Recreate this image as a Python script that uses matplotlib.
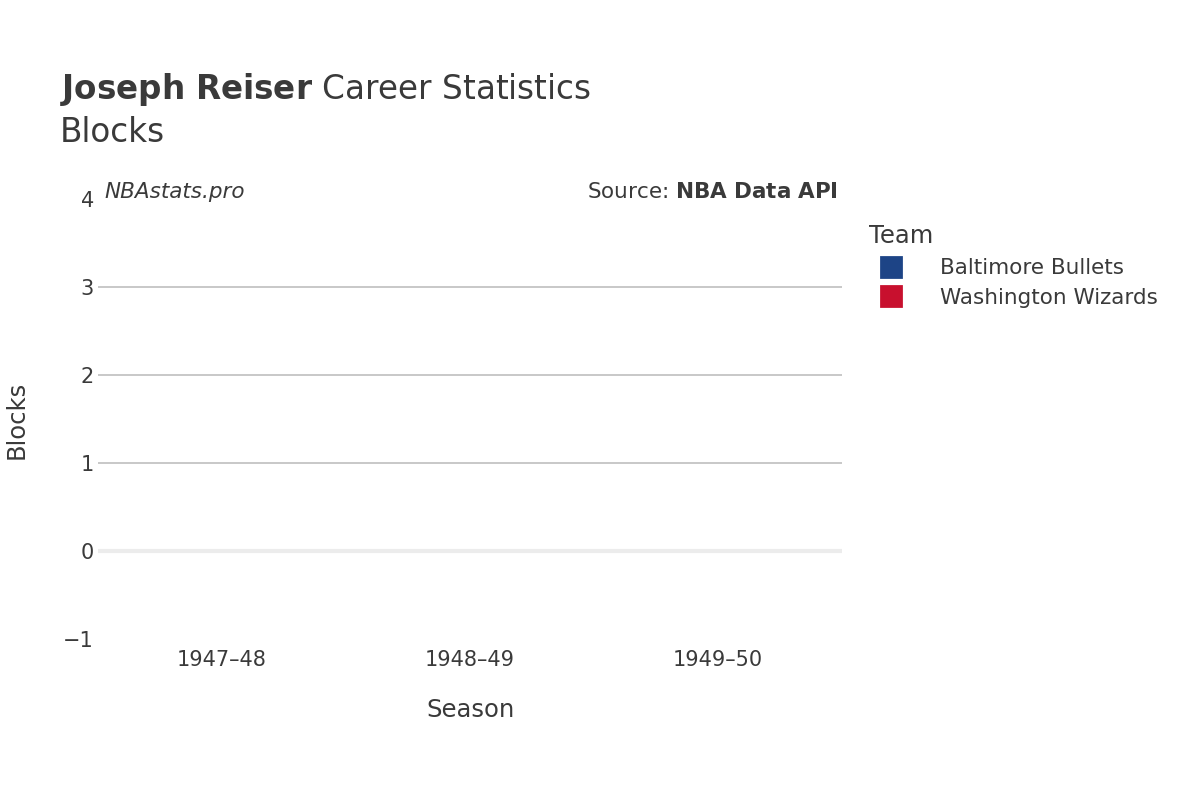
import matplotlib
matplotlib.use("Agg")
import matplotlib.pyplot as plt
from matplotlib.lines import Line2D

seasons = ["1947–48", "1948–49", "1949–50"]
teams = ["Baltimore Bullets", "Washington Wizards"]
team_colors = ["#1d4486", "#c8102e"]
blocks = {"Baltimore Bullets": [], "Washington Wizards": []}  # no recorded blocks
y_ticks = [-1, 0, 1, 2, 3, 4]

txt = "#3a3a3a"
fig = plt.figure(figsize=(12, 8), dpi=100)
ax = fig.add_axes([98 / 1200, 1 - 639 / 800, 744 / 1200, 440 / 800])
ax.set_xlim(-0.5, len(seasons) - 0.5)
ax.set_ylim(-1, 4)

for t, c in zip(teams, team_colors):
    v = blocks[t]
    ax.plot(range(len(v)), v, color=c)

for y in y_ticks[2:-1]:
    ax.axhline(y, color="#c4c4c4", lw=1.3, zorder=0)
ax.axhline(0, color="#ececec", lw=3, zorder=0)

ax.set_xticks(range(len(seasons)))
ax.set_xticklabels(seasons)
ax.set_yticks(y_ticks)
ax.set_yticklabels(["−1" if y < 0 else str(y) for y in y_ticks])
ax.tick_params(length=0, labelsize=15, colors=txt)
ax.tick_params(axis="x", pad=8)
ax.tick_params(axis="y", pad=3)
for s in ax.spines.values():
    s.set_visible(False)

ax.set_xlabel("Season", fontsize=17.5, color=txt, labelpad=20)
fig.text(17 / 1200, 1 - 420 / 800, "Blocks", rotation=90, fontsize=17.5,
         color=txt, va="center", ha="center")

fig.text(60 / 1200, 1 - 89 / 800, r"$\bf{Joseph\ Reiser}$ Career Statistics",
         fontsize=23.5, color=txt, va="center")
fig.text(60 / 1200, 1 - 133 / 800, "Blocks", fontsize=23.5, color=txt, va="center")
fig.text(104 / 1200, 1 - 192 / 800, "NBAstats.pro", fontsize=15.5, color=txt,
         style="italic", va="center")
fig.text(838 / 1200, 1 - 192 / 800, r"Source: $\bf{NBA\ Data\ API}$", fontsize=15.5,
         color=txt, va="center", ha="right")

handles = [Line2D([], [], marker="s", ls="", ms=15, color=c, markeredgewidth=2,
                  markeredgecolor=c) for c in team_colors]
leg = fig.legend(handles, teams, title="Team", loc="upper left",
                 bbox_to_anchor=(850 / 1200, 1 - 205 / 800), frameon=False,
                 fontsize=15.5, title_fontsize=17.5, labelcolor=txt,
                 handletextpad=1.3, labelspacing=0.45)
leg.get_title().set_color(txt)
leg._legend_box.align = "left"

fig.savefig("out.png")
